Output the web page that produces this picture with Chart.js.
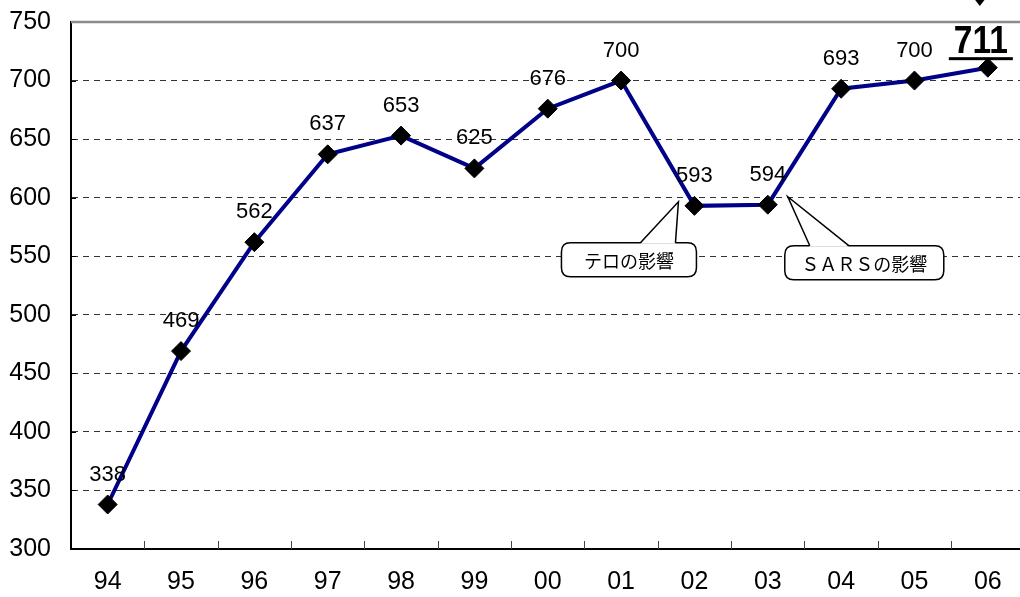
<!DOCTYPE html>
<html><head><meta charset="utf-8">
<script src="https://cdn.jsdelivr.net/npm/chart.js@4/dist/chart.umd.min.js"></script>
<style>html,body{margin:0;padding:0;background:#fff;overflow:hidden;width:1020px;height:597px}
#wrap{position:relative;width:1035px;height:597px}</style>
</head><body>
<div id="wrap"><canvas id="c" width="1035" height="597" style="width:1035px;height:597px;display:block"></canvas></div>
<script>
const years = ['94','95','96','97','98','99','00','01','02','03','04','05','06'];
const visitors = [338,469,562,637,653,625,676,700,593,594,693,700,711];
const yTicks = [300,350,400,450,500,550,600,650,700,750];
const callouts = [
  {index: 8, text: 'テロの影響'},
  {index: 9, text: 'ＳＡＲＳの影響'}
];
const NUM_FONT = '"Liberation Sans", Arial, sans-serif';
const JP_FONT = '"Noto Sans CJK JP", sans-serif';

function roundRect(ctx, x, y, w, h, r) {
  ctx.moveTo(x + r, y);
  ctx.lineTo(x + w - r, y);
  ctx.quadraticCurveTo(x + w, y, x + w, y + r);
  ctx.lineTo(x + w, y + h - r);
  ctx.quadraticCurveTo(x + w, y + h, x + w - r, y + h);
  ctx.lineTo(x + r, y + h);
  ctx.quadraticCurveTo(x, y + h, x, y + h - r);
  ctx.lineTo(x, y + r);
  ctx.quadraticCurveTo(x, y, x + r, y);
}

const deco = {
  id: 'deco',
  beforeDatasetsDraw(chart) {
    const ctx = chart.ctx, a = chart.chartArea, xs = chart.scales.x, ys = chart.scales.y;
    ctx.save();
    ctx.strokeStyle = '#8c8c8c'; ctx.lineWidth = 2.5;
    const yt = ys.getPixelForValue(750);
    ctx.beginPath(); ctx.moveTo(a.left, yt); ctx.lineTo(chart.width, yt); ctx.stroke();
    ctx.strokeStyle = '#444'; ctx.lineWidth = 1;
    const step = xs.getPixelForValue(1) - xs.getPixelForValue(0);
    for (let i = 1; i < years.length; i++) {
      const x = Math.round(xs.getPixelForValue(i) - step / 2) + 0.5;
      ctx.beginPath(); ctx.moveTo(x, a.bottom); ctx.lineTo(x, a.bottom - 8); ctx.stroke();
    }
    ctx.strokeStyle = '#000';
    yTicks.forEach(v => {
      if (v === 300 || v === 750) return;
      const y = Math.round(ys.getPixelForValue(v)) + 0.5;
      ctx.beginPath(); ctx.moveTo(a.left, y); ctx.lineTo(a.left + 5, y); ctx.stroke();
    });
    ctx.restore();
  },
  afterDatasetsDraw(chart) {
    const ctx = chart.ctx, xs = chart.scales.x, ys = chart.scales.y;
    ctx.save();
    ctx.fillStyle = '#000';
    ctx.textAlign = 'center'; ctx.textBaseline = 'middle';
    ctx.font = '22px ' + NUM_FONT;
    const last = visitors.length - 1;
    visitors.forEach((v, i) => {
      if (i === last) return;
      const x = xs.getPixelForValue(i), y = ys.getPixelForValue(v);
      ctx.fillText(String(v), x, y - 30);
    });
    const lx = xs.getPixelForValue(last) - 7, ly = ys.getPixelForValue(visitors[last]);
    ctx.save();
    ctx.translate(lx, ly - 14.5);
    ctx.scale(0.86, 1);
    ctx.font = 'bold 39px ' + NUM_FONT;
    ctx.textBaseline = 'alphabetic';
    ctx.fillText(String(visitors[last]), 0, 0);
    ctx.restore();
    ctx.fillRect(lx - 32, ly - 10.5, 64, 3);
    ctx.beginPath();
    ctx.moveTo(lx - 1, 6); ctx.lineTo(lx - 8, -3); ctx.lineTo(lx + 6, -3); ctx.closePath(); ctx.fill();
    const geo = [
      {tip: [-16, -4], box: [-133, 37, 135, 34], base: [-54, -19]},
      {tip: [20, -8], box: [17, 41, 159, 34], base: [42, 81]}
    ];
    callouts.forEach((c, k) => {
      const g = geo[k];
      const px = xs.getPixelForValue(c.index), py = ys.getPixelForValue(visitors[c.index]);
      const bx = px + g.box[0], by = py + g.box[1], bw = g.box[2], bh = g.box[3];
      ctx.beginPath();
      roundRect(ctx, bx, by, bw, bh, 9);
      ctx.fillStyle = '#fff'; ctx.fill();
      ctx.strokeStyle = '#000'; ctx.lineWidth = 1.5; ctx.stroke();
      ctx.beginPath();
      ctx.moveTo(px + g.base[0], by + 1);
      ctx.lineTo(px + g.tip[0], py + g.tip[1]);
      ctx.lineTo(px + g.base[1], by + 1);
      ctx.closePath();
      ctx.fillStyle = '#fff'; ctx.fill();
      ctx.beginPath();
      ctx.moveTo(px + g.base[0], by);
      ctx.lineTo(px + g.tip[0], py + g.tip[1]);
      ctx.lineTo(px + g.base[1], by);
      ctx.stroke();
      ctx.fillStyle = '#000';
      ctx.font = '18px ' + JP_FONT;
      ctx.textAlign = 'center'; ctx.textBaseline = 'middle';
      ctx.fillText(c.text, bx + bw / 2, by + bh / 2 + 1);
    });
    ctx.restore();
  }
};

new Chart(document.getElementById('c'), {
  type: 'line',
  data: {
    labels: years,
    datasets: [{
      data: visitors,
      borderColor: '#000088',
      borderWidth: 4,
      tension: 0,
      pointStyle: 'rectRot',
      pointRadius: 9.5,
      pointBackgroundColor: '#000',
      pointBorderColor: '#000',
      pointBorderWidth: 1
    }]
  },
  options: {
    responsive: false,
    animation: false,
    devicePixelRatio: 1,
    layout: {padding: {top: 22, right: 0, left: 0, bottom: 0}},
    plugins: {legend: {display: false}, tooltip: {enabled: false}},
    scales: {
      x: {
        offset: true,
        grid: {display: false, drawTicks: false},
        border: {color: '#000', width: 2},
        ticks: {color: '#000', font: {family: NUM_FONT, size: 25}, padding: 18, maxRotation: 0},
        afterFit(s) { s.height = 48; s.paddingLeft = 0; s.paddingRight = 0; }
      },
      y: {
        min: 300, max: 750,
        afterBuildTicks(s) { s.ticks = yTicks.map(v => ({value: v})); },
        grid: {
          drawTicks: false,
          color: c => (c.tick && (c.tick.value === 300 || c.tick.value === 750)) ? 'rgba(0,0,0,0)' : '#333',
          lineWidth: 1
        },
        border: {color: '#000', width: 2, dash: [6, 5]},
        ticks: {color: '#000', font: {family: NUM_FONT, size: 25}, padding: 20},
        afterFit(s) { s.width = 71; s.paddingTop = 0; s.paddingBottom = 0; }
      }
    }
  },
  plugins: [deco]
});
</script>
</body></html>
